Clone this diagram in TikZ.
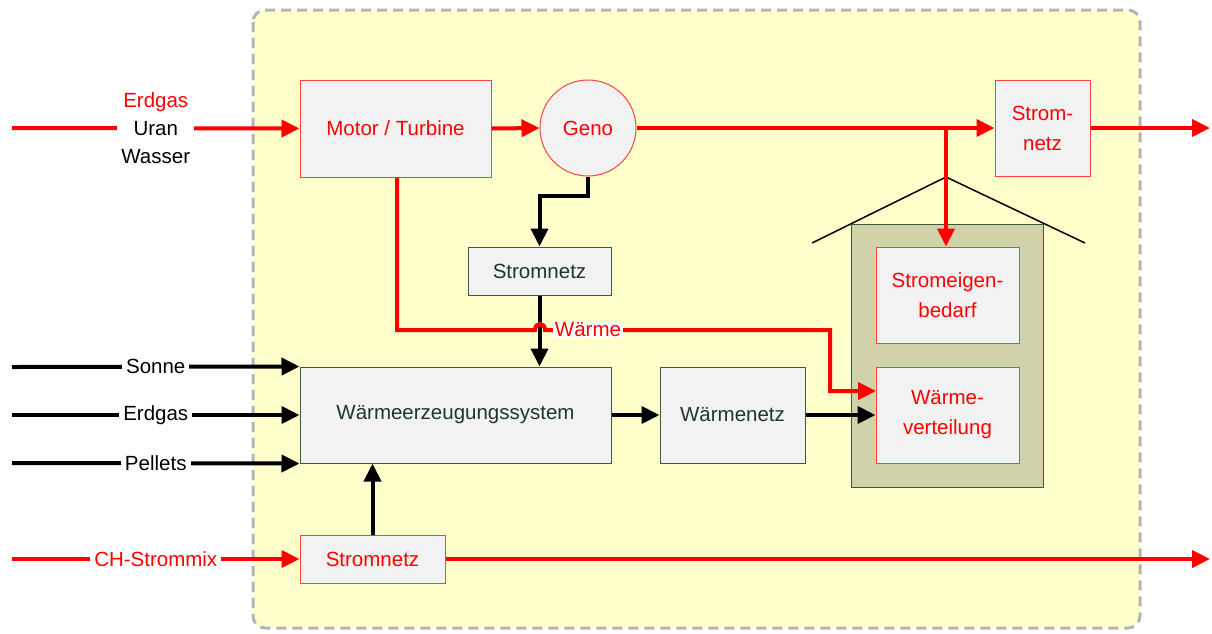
\documentclass[tikz,border=0pt]{standalone}
\usepackage{fontspec}
\setmainfont{Liberation Sans}
\usetikzlibrary{arrows.meta}
\definecolor{bgyellow}{HTML}{FFFFCC}
\definecolor{boxgray}{HTML}{F2F2F2}
\definecolor{housefill}{HTML}{D2D2AA}
\definecolor{darkgreen}{HTML}{3A5A3A}
\definecolor{dashgray}{HTML}{B4B4B4}
\definecolor{textdark}{HTML}{1F3535}
\definecolor{boxred}{HTML}{FF4040}
\begin{document}
\begin{tikzpicture}[x=1pt,y=-1pt,
  font=\fontsize{20.5}{30}\selectfont,
  redbox/.style={draw=boxred,fill=boxgray,text=red,line width=1pt,align=center,inner sep=0pt},
  darkbox/.style={draw=darkgreen,fill=boxgray,text=textdark,line width=1pt,align=center,inner sep=0pt},
  redflow/.style={draw=red,line width=4pt,-{Triangle[length=18pt,width=17pt]}},
  blackflow/.style={draw=black,line width=4pt,-{Triangle[length=18pt,width=17pt]}},
  lbl/.style={fill=white,inner xsep=4pt,inner ysep=1pt},
]
\useasboundingbox (0,0) rectangle (1212,633);
% background area
\draw[draw=dashgray,fill=bgyellow,line width=3pt,dash pattern=on 10pt off 6pt,rounded corners=12pt]
  (253,10) rectangle (1140,628);
% house roof and body
\coordinate (roofL) at (812,243);
\coordinate (roofT) at (946,177);
\coordinate (roofR) at (1085,243);
\draw[line width=1.5pt] (roofL) -- (roofT) -- (roofR);
\node[draw=darkgreen,fill=housefill,line width=1pt,minimum width=192pt,minimum height=263pt,inner sep=0pt] (house) at (947,355.5) {};
% boxes
\node[redbox,minimum width=191pt,minimum height=97pt] (motor) at (395.5,128.5) {Motor / Turbine};
\node[circle,draw=boxred,fill=boxgray,text=red,line width=1pt,minimum size=96pt,inner sep=0pt] (geno) at (588,128) {Geno};
\node[redbox,minimum width=95pt,minimum height=96pt] (snTop) at (1042.5,128) {Strom-\\netz};
\node[redbox,minimum width=143pt,minimum height=96pt] (seb) at (947.5,295) {Stromeigen-\\bedarf};
\node[redbox,minimum width=143pt,minimum height=96pt] (wv) at (947.5,415) {Wärme-\\verteilung};
\node[darkbox,minimum width=143pt,minimum height=48pt] (smid) at (539.5,271) {Stromnetz};
\node[darkbox,minimum width=311pt,minimum height=96pt] (wes) at (455.5,415) {Wärmeerzeugungssystem};
\node[darkbox,minimum width=145pt,minimum height=96pt] (wn) at (732.5,415) {Wärmenetz};
\node[redbox,minimum width=145pt,minimum height=48pt] (sbot) at (372.5,559) {Stromnetz};
% top input
\coordinate (inTop) at (12,128);
\draw[redflow] (inTop) -- node[lbl,align=center,font=\fontsize{20.5}{28}\selectfont] (lTop) {\textcolor{red}{Erdgas}\\Uran\\Wasser} (motor.west);
\draw[redflow] (motor.east) -- (geno.west);
\draw[redflow] (geno.east) -- (snTop.west);
\coordinate (outTop) at (1210,128);
\draw[redflow] (snTop.east) -- (outTop);
\coordinate (br) at (946,128);
\draw[redflow] (br) -- (br |- seb.north);
% Geno to Stromnetz
\draw[blackflow] (geno.south) -- ++(0,19) -| (smid.north);
% heat line from motor (with jump)
\coordinate (h1) at (397,330);
\coordinate (h2) at (535,330);
\coordinate (h3) at (545,330);
\coordinate (h4) at (830,330);
\coordinate (h5) at (830,391);
\coordinate (h6) at (876,391);
\draw[blackflow] (smid.south) -- (smid.south |- wes.north);
\draw[redflow] (motor.south -| h1) -- (h1) -- (h2) .. controls (535,322) and (545,322) .. (h3) -- (h4) -- (h5) -- (h6);
\node[lbl,text=red,inner xsep=2pt] (lWaerme) at (588,330) {Wärme};
% heat chain
\draw[blackflow] (wes.east) -- (wn.west);
\draw[blackflow] (wn.east) -- (wv.west);
% left inputs
\coordinate (inS) at (12,367);
\coordinate (inE) at (12,415);
\coordinate (inP) at (12,463);
\draw[blackflow] (inS) -- node[lbl] (lS) {Sonne} (wes.north west);
\draw[blackflow] (inE) -- node[lbl] (lE) {Erdgas} (wes.west);
\draw[blackflow] (inP) -- node[lbl] (lP) {Pellets} (wes.south west);
% bottom
\coordinate (inB) at (12,559);
\draw[redflow] (inB) -- node[lbl,text=red] (lB) {CH-Strommix} (sbot.west);
\draw[blackflow] (sbot.north) -- (sbot.north |- wes.south);
\coordinate (outB) at (1210,559);
\draw[redflow] (sbot.east) -- (outB);
\end{tikzpicture}
\end{document}
